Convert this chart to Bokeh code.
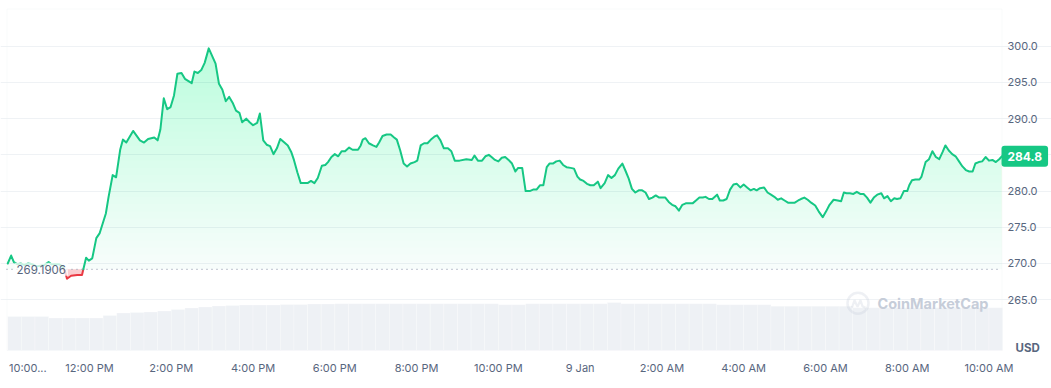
import numpy as np
from bokeh.plotting import figure
from bokeh.models import (Range1d, FixedTicker, Label, BoxAnnotation,
                          PolyAnnotation, NumeralTickFormatter)
from bokeh.embed import file_html
from bokeh.resources import INLINE

# ---------------- data ----------------
# minutes after 8 Jan 10:00 AM
minutes = [0, 5, 9, 14, 19, 24, 30, 36, 42, 48, 54, 60, 64, 70, 75, 80, 84, 87, 93, 102,
           109, 115, 119, 124, 130, 135, 144, 148, 154, 159, 165, 169, 174, 184, 194, 200,
           206, 215, 220, 224, 229, 234, 239, 244, 249, 255, 260, 270, 274, 279, 284, 289,
           295, 305, 310, 315, 320, 325, 330, 335, 340, 344, 350, 355, 360, 366, 370, 375,
           380, 385, 390, 395, 400, 406, 411, 416, 420, 425, 430, 435, 440, 445, 450, 455,
           461, 466, 470, 475, 480, 485, 490, 495, 501, 506, 514, 518, 521, 525, 530, 536,
           541, 545, 550, 556, 562, 567, 571, 576, 581, 586, 591, 597, 601, 606, 611, 616,
           622, 626, 630, 635, 640, 646, 651, 656, 663, 673, 681, 685, 690, 696, 701, 706,
           710, 715, 720, 725, 730, 735, 740, 745, 749, 755, 760, 766, 771, 776, 781, 786,
           791, 795, 800, 805, 810, 815, 820, 826, 831, 836, 840, 845, 850, 855, 860, 866,
           870, 876, 881, 886, 891, 896, 902, 907, 911, 916, 921, 926, 931, 936, 941, 946,
           951, 956, 961, 965, 970, 975, 980, 985, 990, 995, 1000, 1005, 1010, 1015, 1020,
           1024, 1029, 1034, 1041, 1045, 1050, 1055, 1060, 1065, 1070, 1075, 1080, 1085,
           1090, 1095, 1099, 1104, 1110, 1115, 1120, 1125, 1130, 1135, 1140, 1145, 1150,
           1155, 1160, 1164, 1169, 1174, 1179, 1185, 1190, 1196, 1201, 1206, 1212, 1218,
           1223, 1227, 1231, 1236, 1241, 1246, 1251, 1256, 1261, 1266, 1271, 1276, 1282,
           1286, 1291, 1296, 1301, 1305, 1310, 1315, 1320, 1323, 1327, 1332, 1338, 1341,
           1347, 1352, 1357, 1362, 1367, 1372, 1376, 1381, 1386, 1391, 1396, 1401, 1406,
           1411, 1416, 1420, 1425, 1430, 1435, 1440, 1445, 1450, 1455, 1459]
prices = [270.0, 271.1, 270.2, 269.9, 270.0, 269.8, 270.0, 269.9, 269.6, 269.7, 269.8, 270.2,
          269.9, 269.9, 269.9, 269.6, 268.9, 267.9, 268.3, 268.4,
          268.4, 270.8, 270.4, 270.7, 273.5, 274.2, 276.9, 279.2, 282.2, 281.9, 285.7, 287.1,
          286.7, 288.3, 287.0, 286.7,
          287.2, 287.4, 287.0, 288.5, 292.8, 291.3, 291.6, 293.2, 296.2, 296.3, 295.5, 294.9,
          296.5, 296.3, 296.7, 297.7,
          299.7, 297.6, 294.8, 294.0, 292.4, 293.0, 292.2, 291.1, 290.8, 289.5, 290.0, 289.5,
          289.1, 289.4, 290.7, 287.0,
          286.4, 286.2, 285.1, 285.9, 287.2, 286.7, 286.3, 285.4, 284.3, 282.6, 281.1, 281.1,
          281.1, 281.4, 281.1, 281.8,
          283.5, 283.6, 284.0, 284.7, 285.1, 284.8, 285.5, 285.5, 286.0, 285.7, 285.7, 286.3,
          287.1, 287.3, 286.6, 286.3,
          286.1, 286.7, 287.6, 287.8, 287.8, 287.4, 287.1, 285.6, 283.8, 283.4, 283.8, 284.0,
          284.2, 286.3, 286.6, 286.6,
          287.2, 287.5, 287.7, 287.0, 285.9, 285.9, 285.5, 284.2, 284.2, 284.4, 284.3, 284.9,
          284.2, 284.2, 284.8, 285.0,
          284.7, 284.3, 284.1, 284.6, 284.7, 284.3, 283.8, 282.7, 283.2, 283.2, 280.0, 280.0,
          280.2, 280.2, 280.8, 280.8,
          283.3, 283.8, 283.8, 284.1, 284.2, 283.6, 283.3, 283.2, 283.1, 282.0, 281.6, 281.4,
          281.0, 280.8, 280.8, 281.3,
          280.4, 281.1, 282.2, 281.8, 282.2, 283.1, 283.8, 282.7, 281.8, 280.3, 279.8, 280.1,
          280.1, 279.8, 278.9, 279.1,
          279.4, 279.1, 279.1, 279.1, 278.5, 278.1, 277.9, 277.3, 278.1, 278.3, 278.3, 278.3,
          278.7, 279.1, 279.1,
          279.2, 278.9, 278.9, 279.5, 278.7, 278.7, 278.9, 280.2, 280.9, 281.0, 280.5, 280.9,
          280.5,
          280.1, 280.3, 280.1, 280.4, 280.5, 279.8, 279.5, 279.2, 278.8, 279.0, 278.7, 278.4,
          278.4,
          278.4, 278.7, 278.9, 279.1, 278.8, 278.4, 278.0, 277.2, 276.4, 277.2, 278.1, 278.8,
          278.7,
          278.6, 279.8, 279.7, 279.7, 279.6, 279.9, 279.6, 279.6, 279.1, 278.4, 279.1, 279.5,
          279.7,
          279.0, 279.3, 278.6, 279.0, 278.9, 279.0, 280.0, 280.0, 280.8, 281.5, 281.6, 281.6,
          282.0,
          284.0, 284.4, 285.5, 284.7, 284.4, 285.4, 286.3, 285.6, 285.1, 284.8, 284.1, 283.4,
          282.9,
          282.7, 282.7, 283.8, 284.0, 284.1, 284.7, 284.2, 284.3, 284.0, 284.4, 284.8]
baseline = 269.1906

# 24h volume (arbitrary units), one value per 20-minute bin
volume = [68, 68, 68, 65, 65, 65, 65, 70, 75, 76, 77, 79, 82, 85, 87, 89, 90, 91, 91, 91,
          92, 92, 93, 93,
          93.5, 93.5, 93.5, 93.5, 93.5, 93.5, 93.5, 93.5, 93.5, 93.5, 93.5, 93.5,
          91.5, 91.5,
          93.5, 93.5, 93.5, 93.5, 93.5, 93.5,
          96,
          93.5, 93.5, 93.5, 93.5, 93.5, 93.5, 93.5,
          91.5, 91.5, 91.5, 91.5,
          88.5, 88.5, 88.5, 88.5, 88.5, 88.5,
          85.5, 85.5, 85.5, 85.5, 85.5, 85.5, 85.5, 85.5, 85.5, 85.5, 85.5]

tick_hours = [0, 2, 4, 6, 8, 10, 12, 14, 16, 18, 20, 22, 24]
tick_labels = ["10:00...", "12:00 PM", "2:00 PM", "4:00 PM", "6:00 PM", "8:00 PM",
               "10:00 PM", "9 Jan", "2:00 AM", "4:00 AM", "6:00 AM", "8:00 AM", "10:00 AM"]
y_ticks = [265, 270, 275, 280, 285, 290, 295, 300]

# ---------------- style ----------------
GREEN = "#16c784"
RED = "#ea3943"
TXT = "#58667e"
GRID = "#eff2f5"
BORDER = "#eceff2"
VOLC = "#eef1f5"
WM = "#c6cdd9"
FONT = "Inter"
AXFS = "11px"

W, H = 1051, 388
PL, PT, PR, PB = 6, 8, 1001, 350    # plotting-area box (canvas px)
xscale = 40.886                      # px per hour
yscale = 7.243                       # px per price unit
x0 = -7.23 / xscale
x1 = x0 + W / xscale
y1 = 300 + 45.7 / yscale
y0 = y1 - H / yscale


def sx(px):  # canvas pixel -> hours
    return x0 + px / xscale


def sy(py):  # canvas pixel -> price units
    return y1 - py / yscale


p = figure(width=W, height=H, x_range=Range1d(x0, x1), y_range=Range1d(y0, y1),
           output_backend="svg", toolbar_location=None, y_axis_location="right",
           min_border_left=0, min_border_right=0, min_border_top=0, min_border_bottom=0,
           background_fill_color="white", border_fill_color="white",
           outline_line_color=None)
# volume scale: 2 units per pixel, zero at bottom of plotting area
p.extra_y_ranges = {"vol": Range1d(-2 * (H - PB), 2 * PB)}

# plotting-area border
p.add_layout(BoxAnnotation(left=sx(PL + 0.5), right=sx(PR + 0.5), top=sy(PT + 0.5),
                           bottom=sy(PB), fill_alpha=0, line_color=BORDER, line_width=1,
                           level="underlay"))

# volume bars
vol_x = (10 + 20 * np.arange(len(volume))) / 60.0
p.vbar(x=vol_x, width=20 / 60.0, top=volume, bottom=0, y_range_name="vol",
       fill_color=VOLC, line_color="white", line_alpha=0.5, line_width=0.5)

# price series with baseline crossings inserted
t = np.array(minutes) / 60.0
pr = np.array(prices)
xs, ys = [t[0]], [pr[0]]
for i in range(1, len(t)):
    a, b = pr[i - 1] - baseline, pr[i] - baseline
    if a * b < 0:
        f = a / (a - b)
        xs.append(t[i - 1] + f * (t[i] - t[i - 1]))
        ys.append(baseline)
    xs.append(t[i])
    ys.append(pr[i])
xs, ys = np.array(xs), np.array(ys)

# green gradient fill (stacked translucent layers)
yg = np.maximum(ys, baseline)
for k in range(31):
    thr = baseline + k * 1.0
    p.varea(x=xs, y1=np.full_like(yg, thr), y2=np.maximum(yg, thr),
            fill_color=GREEN, fill_alpha=0.035 if k == 0 else 0.0096)
# red fill below baseline
yr = np.minimum(ys, baseline)
p.varea(x=xs, y1=yr, y2=np.full_like(yr, baseline), fill_color=RED, fill_alpha=0.25)

# line runs coloured by side of baseline
runs = []
cur, cur_s = [0], None
for i in range(1, len(xs)):
    s = (ys[i - 1] + ys[i]) / 2 - baseline >= 0
    if cur_s is None:
        cur_s = s
    if s != cur_s:
        runs.append((cur_s, cur))
        cur, cur_s = [i - 1], s
    cur.append(i)
runs.append((cur_s, cur))
for s, idx in runs:
    p.line(xs[idx], ys[idx], line_color=GREEN if s else RED, line_width=2,
           line_join="round", line_cap="round")

# dotted baseline and its label
p.segment(x0=[sx(PL)], y0=[baseline], x1=[sx(PR)], y1=[baseline], line_color="#98a2b3",
          line_dash="1 4", line_width=1.2)
p.add_layout(Label(x=sx(14), y=baseline, text=f"{baseline:.4f}", text_align="left",
                   text_baseline="middle", text_font=FONT, text_font_size="11.5px",
                   text_color=TXT, background_fill_color="white", background_fill_alpha=0.75,
                   padding=2))

# grid
p.xgrid.visible = False
p.ygrid.ticker = FixedTicker(ticks=y_ticks)
p.ygrid.grid_line_color = GRID
p.ygrid.grid_line_width = 1
p.ygrid.bounds = (sx(PL), sx(PR))

# axes fixed at the edges of the plotting area
ya = p.yaxis[0]
ya.fixed_location = sx(PR)
ya.ticker = FixedTicker(ticks=y_ticks)
ya.formatter = NumeralTickFormatter(format="0.0")
ya.axis_line_color = None
ya.major_tick_line_color = None
ya.minor_tick_line_color = None
ya.major_tick_out = 0
ya.major_tick_in = 0
ya.major_label_standoff = 6
ya.major_label_text_font = FONT
ya.major_label_text_font_size = AXFS
ya.major_label_text_color = TXT

xa = p.xaxis[0]
xa.fixed_location = sy(PB)
xa.ticker = FixedTicker(ticks=tick_hours[1:])
xa.major_label_overrides = {h: lab for h, lab in zip(tick_hours[1:], tick_labels[1:])}
xa.axis_line_color = None
xa.major_tick_line_color = None
xa.minor_tick_line_color = None
xa.major_tick_out = 0
xa.major_tick_in = 0
xa.major_label_standoff = 10
xa.major_label_text_font = FONT
xa.major_label_text_font_size = AXFS
xa.major_label_text_color = TXT

p.add_layout(Label(x=sx(8.5), y=sy(367), text=tick_labels[0], text_align="left",
                   text_baseline="middle", text_font=FONT, text_font_size=AXFS,
                   text_color=TXT))
p.add_layout(Label(x=sx(1015), y=sy(347), text="USD", text_align="left",
                   text_baseline="middle", text_font=FONT, text_font_size="11.5px",
                   text_font_style="bold", text_color=TXT))

# current price badge
p.add_layout(Label(x=sx(PR), y=prices[-1], text=f"{prices[-1]:.1f}", text_align="left",
                   text_baseline="middle", text_font=FONT, text_font_size="12px",
                   text_font_style="bold", text_color="white", background_fill_color=GREEN,
                   border_radius=3, padding=6))

# watermark
cx, cy = 857.5, 302.8
p.add_layout(BoxAnnotation(left=sx(cx - 10.5), right=sx(cx + 10.5), top=sy(cy - 10.5),
                           bottom=sy(cy + 10.5), fill_alpha=0, line_color=WM, line_width=2.5,
                           border_radius=11))
pts = [(-6, 4), (-3.5, -3), (-0.5, 3.5), (2.5, -3), (4.5, 3), (7.5, 4.5)]
trace = pts + pts[-2:0:-1]
p.add_layout(PolyAnnotation(xs=[sx(cx + dx) for dx, dy in trace],
                            ys=[sy(cy + dy) for dx, dy in trace],
                            fill_alpha=0, line_color=WM, line_width=2.2))
p.add_layout(Label(x=sx(877), y=sy(303), text="CoinMarketCap", text_align="left",
                   text_baseline="middle", text_font=FONT, text_font_size="14.5px",
                   text_font_style="bold", text_color=WM))

open("out.html", "w").write(file_html(p, INLINE))
